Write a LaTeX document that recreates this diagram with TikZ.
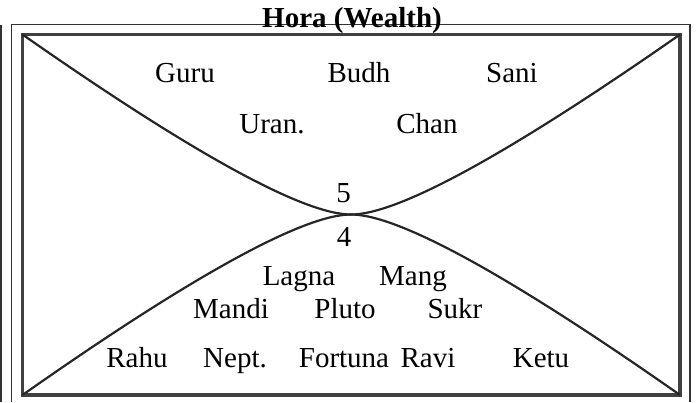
\documentclass[tikz,border=0pt]{standalone}
\usepackage{fontspec}
\setmainfont{Liberation Serif}
\usepackage{tikz}

\begin{document}
\begin{tikzpicture}[x=1pt,y=-1pt,font=\fontsize{29}{31}\selectfont]
  \tikzset{lbl/.style={anchor=base,inner sep=0pt}}
  \useasboundingbox (0,0) rectangle (698,402);
  % frames
  \draw[line width=1.2pt,black!80] (1,24.5) -- (1,402);
  \draw[line width=1.2pt,black!80] (11.5,402) -- (11.5,24.5) -- (690,24.5) -- (690,402);
  \draw[line width=3.2pt,black!75] (22.5,34.5) rectangle (680,395);
  % the two curves meeting in the middle
  \draw[line width=2.2pt,black!85] (22.5,34.5) .. controls (194,154.5) and (304,214.5) .. (351,214.5)
                                    .. controls (398,214.5) and (508,154.5) .. (680,34.5);
  \draw[line width=2.2pt,black!85] (22.5,395) .. controls (194,274.5) and (304,214.5) .. (351,214.5)
                                    .. controls (398,214.5) and (508,274.5) .. (680,395);
  \node[lbl,font=\bfseries\fontsize{29}{31}\selectfont] (title) at (352,27) {Hora (Wealth)};
  % upper house
  \node[lbl] (guru) at (185,82) {Guru};
  \node[lbl] (budh) at (359,82) {Budh};
  \node[lbl] (sani) at (512,82) {Sani};
  \node[lbl] (uran) at (272,133) {Uran.};
  \node[lbl] (chan) at (427,133) {Chan};
  \node[lbl] (five) at (343.5,202) {5};
  % lower house
  \node[lbl] (four) at (344,246) {4};
  \node[lbl] (lagna) at (299,285) {Lagna};
  \node[lbl] (mang) at (413,285) {Mang};
  \node[lbl] (mandi) at (231,318) {Mandi};
  \node[lbl] (pluto) at (345,318) {Pluto};
  \node[lbl] (sukr) at (455,318) {Sukr};
  \node[lbl] (rahu) at (137,367) {Rahu};
  \node[lbl] (nept) at (235,367) {Nept.};
  \node[lbl] (fortuna) at (344,367) {Fortuna};
  \node[lbl] (ravi) at (428,367) {Ravi};
  \node[lbl] (ketu) at (541,367) {Ketu};
\end{tikzpicture}
\end{document}
